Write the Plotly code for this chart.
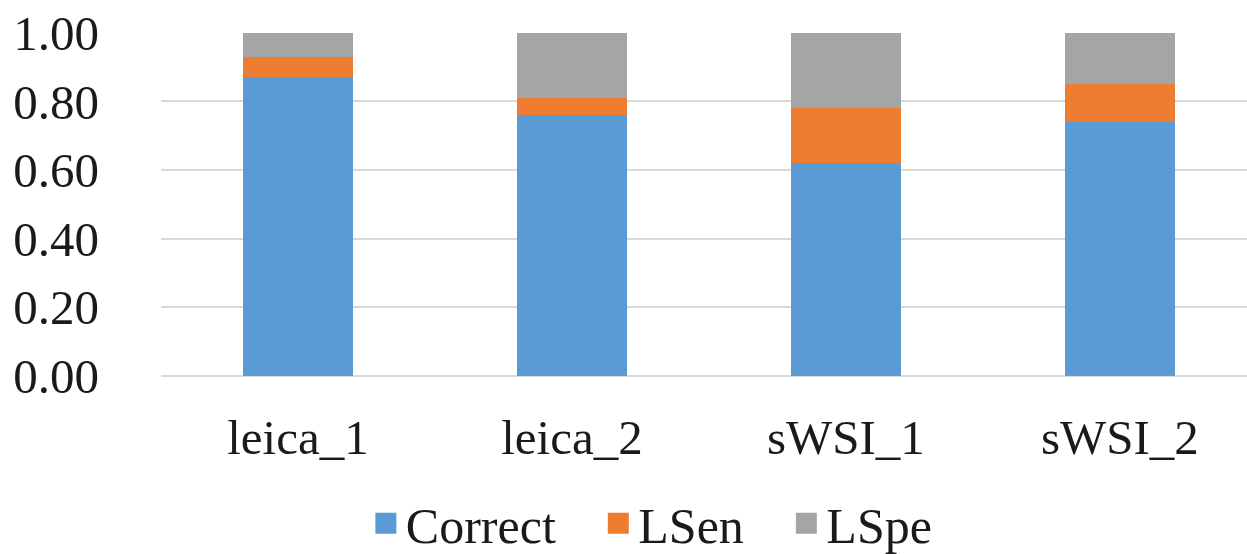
import plotly.graph_objects as go

categories = ["leica_1", "leica_2", "sWSI_1", "sWSI_2"]
correct = [0.87, 0.76, 0.62, 0.74]
lsen = [0.06, 0.05, 0.16, 0.11]
lspe = [0.07, 0.19, 0.22, 0.15]
tick_vals = [0.0, 0.2, 0.4, 0.6, 0.8, 1.0]
series_names = ["Correct", "LSen", "LSpe"]
series_colors = ["#5B9BD5", "#ED7D31", "#A5A5A5"]

FONT = "Liberation Serif"
TXT = "#1a1a1a"
PAD = "\u00a0\u00a0\u00a0"

fig = go.Figure()
for name, vals, col in zip(series_names, [correct, lsen, lspe], series_colors):
    fig.add_trace(go.Bar(name=name, x=categories, y=vals, showlegend=False,
                         marker=dict(color=col, line=dict(width=0))))
# legend entries with larger square swatches
for i, (name, col) in enumerate(zip(series_names, series_colors)):
    label = name + (PAD if i < len(series_names) - 1 else "")
    fig.add_trace(go.Scatter(name=label, x=[None], y=[None], mode="markers",
                             marker=dict(symbol="square", size=16, color=col,
                                         line=dict(color=col, width=5)),
                             showlegend=True))

fig.update_layout(
    barmode="stack",
    bargap=0.601,
    width=1247,
    height=554,
    margin=dict(l=161, r=0, t=32, b=178, autoexpand=False),
    paper_bgcolor="white",
    plot_bgcolor="white",
    font=dict(family=FONT, color=TXT),
    showlegend=True,
    legend=dict(
        orientation="h",
        x=0.452,
        xanchor="center",
        y=-0.428,
        yanchor="middle",
        font=dict(family=FONT, size=50, color=TXT),
        traceorder="normal",
    ),
    xaxis=dict(
        range=[-0.5, 3.464],
        showgrid=False,
        showline=False,
        zeroline=False,
        ticks="",
        automargin=False,
        tickfont=dict(family=FONT, size=49, color=TXT),
        ticklabelstandoff=28,
    ),
    yaxis=dict(
        range=[0, 1.002],
        tickvals=tick_vals,
        tickformat=".2f",
        showgrid=True,
        gridcolor="#D9D9D9",
        gridwidth=2,
        zeroline=True,
        zerolinecolor="#D9D9D9",
        zerolinewidth=2,
        showline=False,
        ticks="",
        automargin=False,
        ticklabeloverflow="allow",
        tickfont=dict(family=FONT, size=49, color=TXT),
        ticklabelstandoff=61,
    ),
)

fig.write_html("out.html", config={"displayModeBar": False},
               post_script="document.body.style.margin='0px';")
